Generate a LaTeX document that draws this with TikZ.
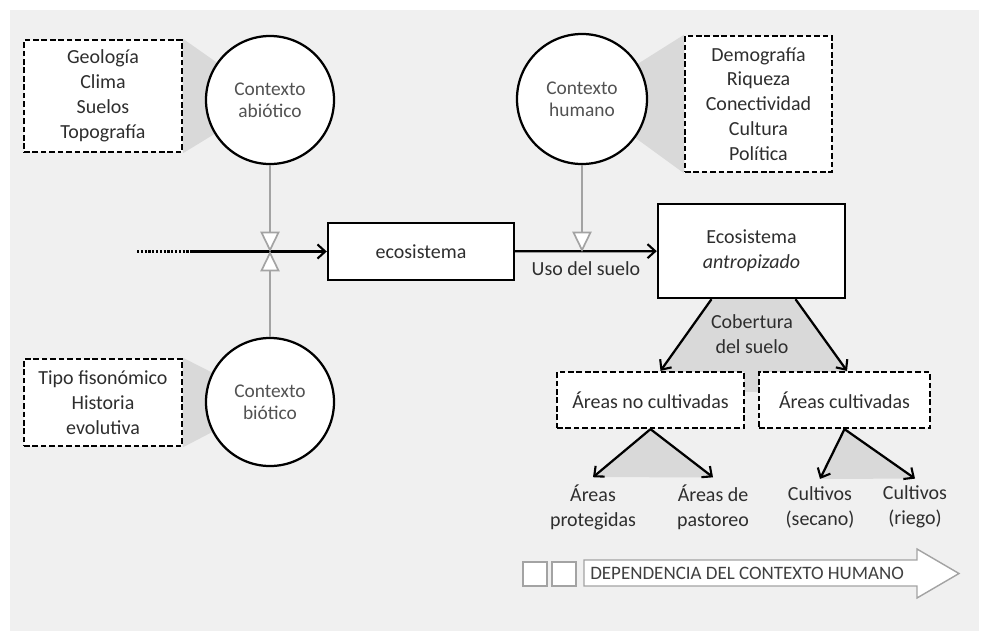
\documentclass[tikz,border=0pt]{standalone}
\usepackage{fontspec}
\setmainfont{Carlito}
\usetikzlibrary{arrows.meta,backgrounds}
\definecolor{panel}{HTML}{F0F0F0}
\definecolor{wedge}{HTML}{D9D9D9}
\definecolor{valvegray}{HTML}{A3A3A3}
\definecolor{txt}{HTML}{2E2E2E}

\begin{document}
\begin{tikzpicture}[x=0.025cm, y=-0.025cm,
    % Styles
    every node/.style={font=\fontsize{14.2}{17.7}\selectfont, text=txt},
    context/.style={draw, line width=1.6pt, circle, fill=white, minimum size=3.2cm, inner sep=0pt, align=center, font=\fontsize{13.8}{15.8}\selectfont, text=black!68},
    factors/.style={draw, line width=1.6pt, dash pattern=on 4pt off 2pt, fill=white, align=center, inner sep=0pt},
    stage/.style={draw, line width=1.7pt, fill=white, align=center, inner sep=0pt},
    cover/.style={draw, line width=1.6pt, dash pattern=on 4pt off 2pt, fill=white, minimum height=1.4cm, inner sep=0pt},
    leaf/.style={align=center, inner sep=2pt},
    flow/.style={-{Straight Barb[length=5.5pt,width=10pt,line width=1.5pt]}, line width=1.6pt},
    drive/.style={draw=valvegray, line width=1.2pt},
    valve/.style={draw=valvegray, line width=1.2pt, fill=white},
    markbox/.style={draw=valvegray, line width=1pt, fill=white, minimum size=0.6cm, inner sep=0pt},
]
\useasboundingbox (0,0) rectangle (981,633);
\begin{scope}[on background layer]
  \fill[panel] (10,10) rectangle (979,631);
\end{scope}

% Abiotic context
\node[context] (abio) at (270,100) {Contexto\\abiótico};
\node[factors, minimum width=3.95cm, minimum height=2.8cm] (abiolist) at (103,96) {Geología\\Clima\\Suelos\\Topografía};

% Biotic context
\node[context] (bio) at (270,402) {Contexto\\biótico};
\node[factors, minimum width=3.95cm, minimum height=2.175cm] (biolist) at (103,402.5) {Tipo fisonómico\\Historia\\evolutiva};

% Human context
\node[context, minimum size=3.25cm] (hum) at (582,99) {Contexto\\humano};
\node[factors, minimum width=3.675cm, minimum height=3.4cm] (humlist) at (758.5,104) {Demografía\\Riqueza\\Conectividad\\Cultura\\Política};

\begin{scope}[on background layer]
  \fill[wedge] (abiolist.north east) -- (abio.center) -- (abiolist.south east) -- cycle;
  \fill[wedge] (biolist.north east) -- (bio.center) -- (biolist.south east) -- cycle;
  \fill[wedge] (humlist.north west) -- (hum.center) -- (humlist.south west) -- cycle;
\end{scope}

% Ecosystems
\node[stage, minimum width=4.65cm, minimum height=1.425cm] (eco) at (421,251.5) {ecosistema};
\node[stage, minimum width=4.675cm, minimum height=2.35cm] (antro) at (751.5,251) {Ecosistema\\\textit{antropizado}};

% Main flow
\coordinate (tail) at (137,251.5);
\coordinate (join) at (192,251.5);
\draw[line width=1.6pt, dash pattern=on 1.6pt off 1.1pt] (tail) -- (join);
\draw[flow] (join) -- (eco.west);
\draw[flow] (eco) -- node[below=3pt] {Uso del suelo} (antro);

% Valves
\coordinate (v1) at (270,251.5);
\coordinate (v2) at (582,251.5);
\draw[drive] (abio) -- ([shift={(0,-19)}]v1);
\draw[drive] (bio) -- ([shift={(0,19)}]v1);
\draw[drive] (hum) -- ([shift={(0,-19)}]v2);
\draw[valve] ([shift={(-8.5,-19)}]v1) -- ([shift={(8.5,-19)}]v1) -- ([shift={(0,-1.5)}]v1) -- cycle;
\draw[valve] ([shift={(-8.5,19)}]v1) -- ([shift={(8.5,19)}]v1) -- ([shift={(0,1.5)}]v1) -- cycle;
\draw[valve] ([shift={(-8.5,-19)}]v2) -- ([shift={(8.5,-19)}]v2) -- ([shift={(0,-1.5)}]v2) -- cycle;

% Land cover
\node[cover, minimum width=4.675cm] (nocult) at (650.5,400) {Áreas no cultivadas};
\node[cover, minimum width=4.275cm] (cult) at (844.5,400) {Áreas cultivadas};
\node[leaf] (cob) at (752,334) {Cobertura\\del suelo};
\coordinate (cl) at ([xshift=-1cm]antro.south);
\coordinate (cr) at ([xshift=1.1cm]antro.south);
\coordinate (nl) at ([xshift=0.25cm]nocult.north);
\coordinate (nr) at ([xshift=0.0625cm]cult.north);
\begin{scope}[on background layer]
  \fill[wedge] (cl) -- (cr) -- (nr) -- ([shift={(0,21)}]nr) -- ([shift={(0,21)}]nl) -- (nl) -- cycle;
\end{scope}
\draw[flow] (cl) -- (nl);
\draw[flow] (cr) -- (nr);

% Leaves
\node[leaf] (prot) at (593,507) {Áreas\\protegidas};
\node[leaf] (past) at (713,507) {Áreas de\\pastoreo};
\node[leaf] (secano) at (820,507) {Cultivos\\(secano)};
\node[leaf] (riego) at (915,507) {Cultivos\\(riego)};
\coordinate (pl) at ([yshift=3pt]prot.north);
\coordinate (pr) at ([yshift=3pt]past.north);
\coordinate (sl) at ([yshift=3pt]secano.north);
\coordinate (sr) at ([yshift=3pt]riego.north);
\begin{scope}[on background layer]
  \fill[wedge] (nocult.south) -- (pl) -- (pr) -- cycle;
  \fill[wedge] (cult.south) -- (sl) -- (sr) -- cycle;
\end{scope}
\draw[flow] (nocult.south) -- (pl);
\draw[flow] (nocult.south) -- (pr);
\draw[flow] (cult.south) -- (sl);
\draw[flow] (cult.south) -- (sr);

% Dependence arrow
\node[markbox] (sq1) at (535,574) {};
\node[markbox] (sq2) at (564,574) {};
\draw[draw=valvegray, line width=1pt, fill=white] (584,560) -- (917,560) -- (917,549) -- (959,573.5) -- (917,598) -- (917,586) -- (584,586) -- cycle;
\node[anchor=west, inner sep=0pt, font=\fontsize{13.5}{15}\selectfont, text=black!75] (dep) at (590,573.5) {DEPENDENCIA DEL CONTEXTO HUMANO};

\end{tikzpicture}
\end{document}
